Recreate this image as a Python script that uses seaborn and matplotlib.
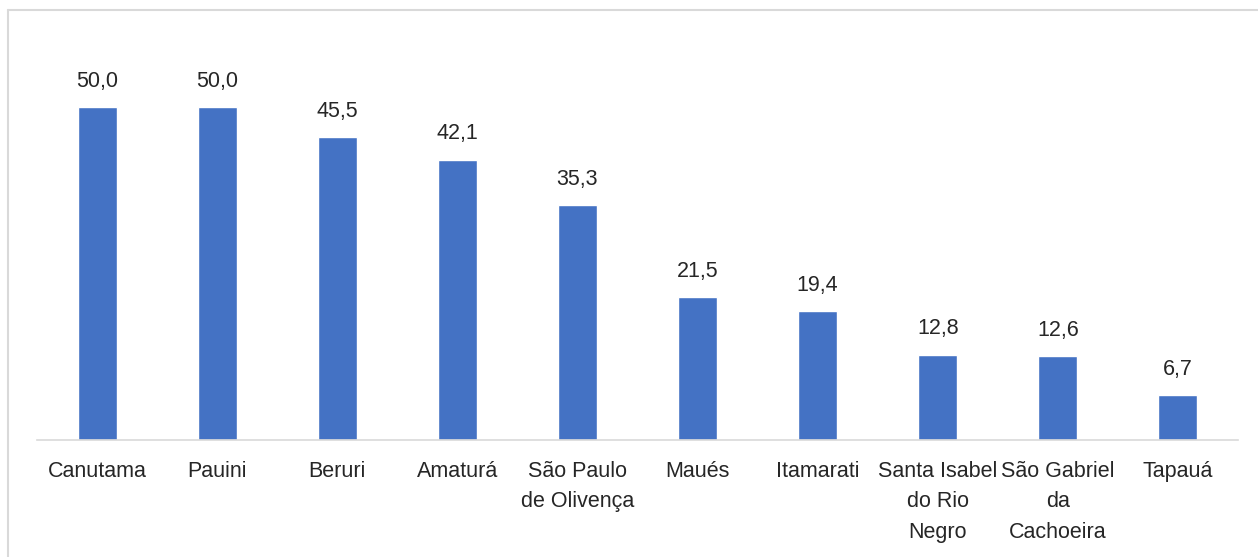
import matplotlib
matplotlib.use("Agg")
import matplotlib.pyplot as plt
from matplotlib.lines import Line2D
import seaborn as sns
import pandas as pd

municipios = ["Canutama", "Pauini", "Beruri", "Amaturá", "São Paulo\nde Olivença",
              "Maués", "Itamarati", "Santa Isabel\ndo Rio\nNegro",
              "São Gabriel\nda\nCachoeira", "Tapauá"]
valores = [50.0, 50.0, 45.5, 42.1, 35.3, 21.5, 19.4, 12.8, 12.6, 6.7]

sns.set_theme(style="white")
plt.rcParams["font.family"] = ["Liberation Sans Narrow", "Liberation Sans", "DejaVu Sans"]

W, H, DPI = 1258, 557, 100
fig = plt.figure(figsize=(W / DPI, H / DPI), dpi=DPI)
fig.patch.set_facecolor("white")

# axes placed in pixel terms: baseline at y=440, x from 37 to 1238
left, right = 37, 1238
bottom = 440
top = 40
ax = fig.add_axes([left / W, 1 - bottom / H, (right - left) / W, (bottom - top) / H])

df = pd.DataFrame({"municipio": municipios, "valor": valores})
sns.barplot(data=df, x="municipio", y="valor", color="#4472C4", saturation=1,
            width=0.325, ax=ax)

FS = 15.5
ax.set_ylim(0, (bottom - top) / 6.66)
ax.set_xlim(-0.5, len(municipios) - 0.5)
ax.set_xlabel("")
ax.set_ylabel("")
ax.set_yticks([])
for s in ["left", "right", "top"]:
    ax.spines[s].set_visible(False)
ax.spines["bottom"].set_color("#d9d9d9")
ax.spines["bottom"].set_linewidth(1.2)
ax.tick_params(axis="x", length=0, pad=15, labelsize=FS, colors="#262626")
for lab in ax.get_xticklabels():
    lab.set_linespacing(1.6)
    lab.set_ha("center")

for i, v in enumerate(valores):
    ax.annotate(f"{v:.1f}".replace(".", ","), xy=(i, v), xytext=(0, 11),
                textcoords="offset points", ha="center", va="bottom",
                fontsize=FS, color="#262626")

# light chart-area frame
frame_kw = dict(color="#d9d9d9", linewidth=1.5, transform=fig.transFigure)
fig.add_artist(Line2D([8 / W, 8 / W], [0, 1 - 10 / H], **frame_kw))
fig.add_artist(Line2D([8 / W, 1], [1 - 10 / H, 1 - 10 / H], **frame_kw))

fig.savefig("out.png", dpi=DPI, facecolor="white")
